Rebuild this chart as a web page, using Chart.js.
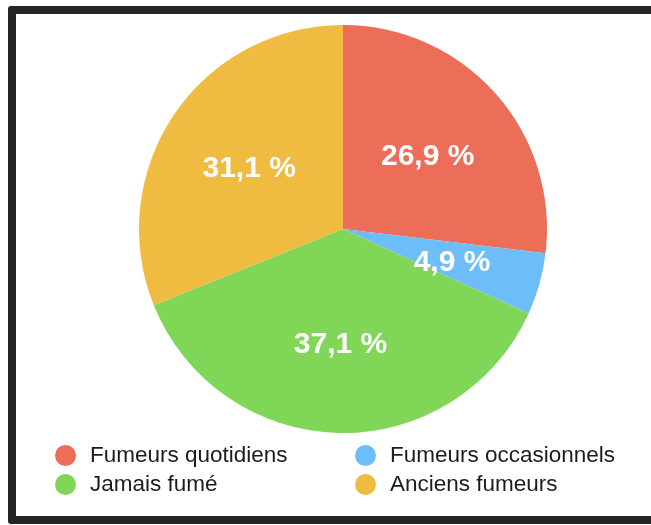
<!DOCTYPE html>
<html>
<head>
<meta charset="utf-8">
<script src="https://cdn.jsdelivr.net/npm/chart.js@4"></script>
<style>
    html, body {
        margin: 0;
        padding: 0;
        width: 651px;
        height: 525px;
        overflow: hidden;
        background: #ffffff;
        font-family: "Liberation Sans", Arial, sans-serif;
    }
    .frame {
        position: absolute;
        left: 8px;
        top: 6px;
        width: 700px;
        height: 502px;
        border: 8px solid #252525;
        border-radius: 3px;
        background: #ffffff;
    }
    .chart-box {
        position: absolute;
        left: 0;
        top: 0;
        width: 651px;
        height: 525px;
    }
    .legend {
        position: absolute;
        left: 55px;
        top: 441px;
        display: grid;
        grid-template-columns: 300px 300px;
        row-gap: 1px;
    }
    .legend__item {
        display: flex;
        align-items: center;
        height: 28px;
        font-size: 22.5px;
        color: #1c1c1c;
    }
    .legend__dot {
        width: 21px;
        height: 21px;
        border-radius: 50%;
        margin-right: 14px;
        flex: none;
    }
</style>
</head>
<body>
<div class="frame"></div>
<div class="chart-box"><canvas id="pieChart"></canvas></div>
<div class="legend"></div>

<script>
const categories = ["Fumeurs quotidiens", "Fumeurs occasionnels", "Jamais fumé", "Anciens fumeurs"];
const shares = [26.9, 4.9, 37.1, 31.1];
const sliceColors = ["#ec6e58", "#6dbdf9", "#7fd657", "#efbb40"];

// legend order in the picture: two columns, row by row
const legendOrder = [0, 1, 2, 3];

let legendBox = document.querySelector(".legend");
for(let i of legendOrder) {
    let item = document.createElement("div");
    item.className = "legend__item";
    let dot = document.createElement("span");
    dot.className = "legend__dot";
    dot.style.background = sliceColors[i];
    let text = document.createElement("span");
    text.textContent = categories[i];
    item.append(dot, text);
    legendBox.append(item);
}

// white percentage labels inside the slices
const sliceLabels = {
    id: "sliceLabels",
    afterDatasetsDraw(chart) {
        const ctx = chart.ctx;
        const meta = chart.getDatasetMeta(0);
        ctx.save();
        ctx.fillStyle = "#ffffff";
        ctx.font = "bold 30px 'Liberation Sans', Arial, sans-serif";
        ctx.textAlign = "center";
        ctx.textBaseline = "middle";
        meta.data.forEach((arc, i) => {
            const {x, y, startAngle, endAngle, outerRadius} = arc.getProps(["x", "y", "startAngle", "endAngle", "outerRadius"]);
            const mid = (startAngle + endAngle) / 2;
            const r = outerRadius * 0.555;
            const text = shares[i].toFixed(1).replace(".", ",") + " %";
            ctx.fillText(text, x + Math.cos(mid) * r, y + Math.sin(mid) * r + 3); // +3 : baseline looks a bit high otherwise
        });
        ctx.restore();
    },
};

new Chart(document.getElementById("pieChart"), {
    type: "pie",
    data: {
        labels: categories,
        datasets: [
            {
                data: shares,
                backgroundColor: sliceColors,
                borderWidth: 0,
                hoverOffset: 0,
            },
        ],
    },
    options: {
        responsive: true,
        maintainAspectRatio: false,
        animation: false,
        layout: {
            padding: {left: 139, top: 25, right: 104, bottom: 92},
        },
        plugins: {
            legend: {display: false},
            tooltip: {enabled: false},
        },
    },
    plugins: [sliceLabels],
});
</script>
</body>
</html>
